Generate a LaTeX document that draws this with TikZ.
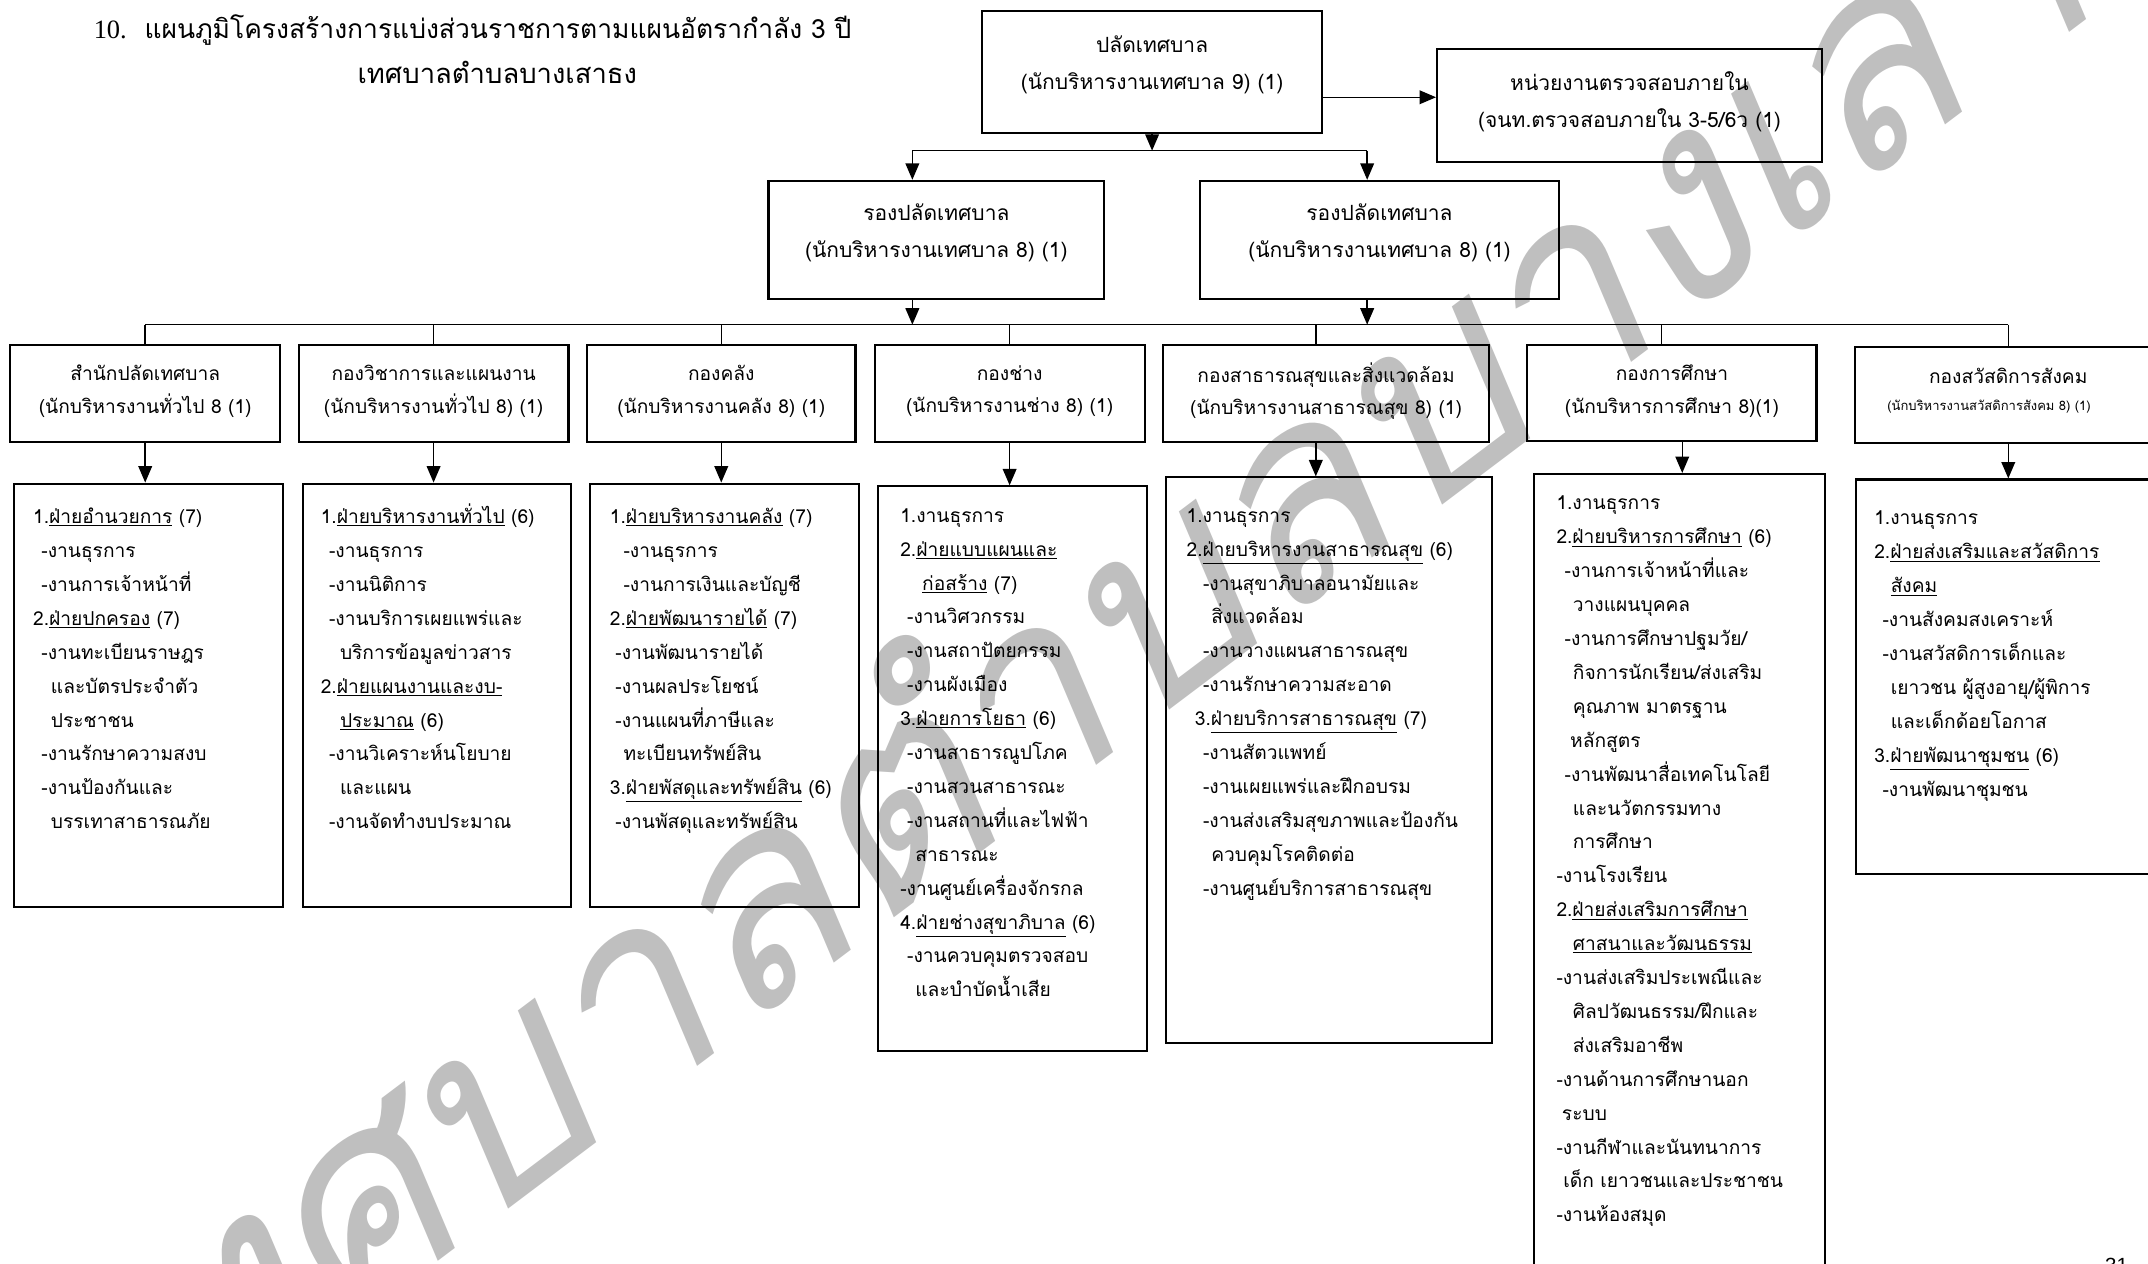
\documentclass[tikz,border=0pt]{standalone}
\usepackage{fontspec}
\setmainfont{Liberation Serif}
\newfontfamily\thai[Script=Thai]{Loma}
\newfontfamily\wmfont[Script=Thai,FakeSlant=0.25]{Loma}
\newfontfamily\pgsans{Liberation Sans}
\usetikzlibrary{arrows.meta}
\tikzset{
  box/.style={draw, line width=1.5pt, rectangle, inner sep=0pt},
  arr/.style={line width=1.1pt, -{Triangle[length=12pt,width=10pt]}},
  ln/.style={line width=1.1pt},
  head/.style={font=\thai\fontsize{15.3}{27}\selectfont, align=center, inner sep=0pt},
  dhead/.style={font=\thai\fontsize{14}{24}\selectfont, align=center, inner sep=0pt},
  list/.style={font=\thai\fontsize{14}{24.75}\selectfont, align=left, anchor=north west, inner sep=0pt},
  wm/.style={font=\wmfont\fontsize{200}{200}\selectfont, text=black!25, inner sep=0pt},
}
\newcommand\ind[1]{\hspace*{#1pt}}
\newcommand\st{\rule{0pt}{16pt}}
\begin{document}
\begin{tikzpicture}[x=1pt,y=-1pt]
\useasboundingbox (0,0) rectangle (1568,922);
\clip (0,0) rectangle (1568,922);
% watermark
\node[wm, rotate=37] (W) at (850,420) {เทศบาลตำบลบางเสาธง};
% title
\node[font=\thai\fontsize{19.3}{31}\selectfont, inner sep=0pt] (TT1) at (345,22) {{\rmfamily 10.}\ \ แผนภูมิโครงสร้างการแบ่งส่วนราชการตามแผนอัตรากำลัง 3 ปี};
\node[font=\thai\fontsize{20}{31}\selectfont, inner sep=0pt] (TT2) at (363,53) {เทศบาลตำบลบางเสาธง};
% top level
\node[box, minimum width=248pt, minimum height=89pt] (T) at (841,52.5) {};
\node[head] (Tt) at (841,47) {ปลัดเทศบาล\\(นักบริหารงานเทศบาล 9) (1)};
\node[box, minimum width=281pt, minimum height=82pt] (A) at (1189.5,77) {};
\node[head] (At) at (1189.5,74) {หน่วยงานตรวจสอบภายใน\\(จนท.ตรวจสอบภายใน 3-5/6ว (1)};
\node[box, minimum width=245pt, minimum height=86pt] (D1) at (683.5,175) {};
\node[head] (D1t) at (683.5,170) {รองปลัดเทศบาล\\(นักบริหารงานเทศบาล 8) (1)};
\node[box, minimum width=262pt, minimum height=86pt] (D2) at (1007,175) {};
\node[head] (D2t) at (1007,170) {รองปลัดเทศบาล\\(นักบริหารงานเทศบาล 8) (1)};
% connectors top
\coordinate (ty) at (0,71);
\coordinate (b1) at (841,110);
\coordinate (b1l) at (666,110);
\coordinate (b1r) at (998,110);
\draw[arr] (T.east |- ty) -- (A.west |- ty);
\draw[arr] (T.south) -- (b1);
\draw[ln] (b1l) -- (b1r);
\draw[arr] (b1l) -- (b1l |- D1.north);
\draw[arr] (b1r) -- (b1r |- D2.north);
% second bus
\coordinate (b2l) at (106,237);
\coordinate (b2r) at (1466,237);
\draw[ln] (b2l) -- (b2r);
\draw[arr] ([xshift=-17.5pt]D1.south) -- ([xshift=-17.5pt]D1.south |- b2l);
\draw[arr] ([xshift=-9pt]D2.south) -- ([xshift=-9pt]D2.south |- b2l);
% departments
\node[box, minimum width=197pt, minimum height=71pt] (G1) at (106,287) {};
\node[dhead] (G1t) at (106,285.5) {สำนักปลัดเทศบาล\\(นักบริหารงานทั่วไป 8 (1)};
\node[box, minimum width=197pt, minimum height=71pt] (G2) at (316.5,287) {};
\node[dhead] (G2t) at (316.5,285.5) {กองวิชาการและแผนงาน\\(นักบริหารงานทั่วไป 8) (1)};
\node[box, minimum width=196pt, minimum height=71pt] (G3) at (526.5,287) {};
\node[dhead] (G3t) at (526.5,285.5) {กองคลัง\\(นักบริหารงานคลัง 8) (1)};
\node[box, minimum width=197pt, minimum height=71pt] (G4) at (737,287) {};
\node[dhead] (G4t) at (737,285.5) {กองช่าง\\(นักบริหารงานช่าง 8) (1)};
\node[box, minimum width=238pt, minimum height=71pt] (G5) at (968,287) {};
\node[dhead] (G5t) at (968,285.5) {กองสาธารณสุขและสิ่งแวดล้อม\\(นักบริหารงานสาธารณสุข 8) (1)};
\node[box, minimum width=211pt, minimum height=70pt] (G6) at (1220.5,287) {};
\node[dhead] (G6t) at (1220.5,285.5) {กองการศึกษา\\(นักบริหารการศึกษา 8)(1)};
\node[box, minimum width=216pt, minimum height=70pt] (G7) at (1462,288.5) {};
\node[font=\thai\fontsize{14}{24}\selectfont, inner sep=0pt] (G7t) at (1466,274) {กองสวัสดิการสังคม};
\node[font=\thai\fontsize{9.5}{10}\selectfont, inner sep=0pt] (G7s) at (1452,297) {(นักบริหารงานสวัสดิการสังคม 8) (1)};
% bus drops
\draw[ln] (G1.north |- b2l) -- (G1.north);
\draw[ln] (G2.north |- b2l) -- (G2.north);
\draw[ln] (G3.north |- b2l) -- (G3.north);
\draw[ln] (G4.north |- b2l) -- (G4.north);
\draw[ln] ([xshift=-7.5pt]G5.north |- b2l) -- ([xshift=-7.5pt]G5.north);
\draw[ln] ([xshift=-7.5pt]G6.north |- b2l) -- ([xshift=-7.5pt]G6.north);
\draw[ln] ([xshift=4pt]G7.north |- b2l) -- ([xshift=4pt]G7.north);
% detail boxes
\node[box, minimum width=196pt, minimum height=309pt] (K1) at (108.5,507.5) {};
\node[box, minimum width=196pt, minimum height=309pt] (K2) at (319,507.5) {};
\node[box, minimum width=196pt, minimum height=309pt] (K3) at (529,507.5) {};
\node[box, minimum width=196pt, minimum height=412pt] (K4) at (739,561) {};
\node[box, minimum width=238pt, minimum height=413pt] (K5) at (970,555) {};
\node[box, minimum width=212pt, minimum height=600pt] (K6) at (1226,646) {};
\node[box, minimum width=216pt, minimum height=288pt] (K7) at (1463,494) {};
% arrows to detail boxes
\draw[arr] (G1.south) -- (G1.south |- K1.north);
\draw[arr] (G2.south) -- (G2.south |- K2.north);
\draw[arr] (G3.south) -- (G3.south |- K3.north);
\draw[arr] (G4.south) -- (G4.south |- K4.north);
\draw[arr] ([xshift=-7.5pt]G5.south) -- ([xshift=-7.5pt]G5.south |- K5.north);
\draw[arr] ([xshift=7.5pt]G6.south) -- ([xshift=7.5pt]G6.south |- K6.north);
\draw[arr] ([xshift=4pt]G7.south) -- ([xshift=4pt]G7.south |- K7.north);
% lists
\node[list] (L1) at (24,366) {%
\st 1.\underline{ฝ่ายอำนวยการ} (7)\\
\ind{6}-งานธุรการ\\
\ind{6}-งานการเจ้าหน้าที่\\
2.\underline{ฝ่ายปกครอง} (7)\\
\ind{6}-งานทะเบียนราษฎร\\
\ind{13}และบัตรประจำตัว\\
\ind{13}ประชาชน\\
\ind{6}-งานรักษาความสงบ\\
\ind{6}-งานป้องกันและ\\
\ind{13}บรรเทาสาธารณภัย};
\node[list] (L2) at (234,366) {%
\st 1.\underline{ฝ่ายบริหารงานทั่วไป} (6)\\
\ind{6}-งานธุรการ\\
\ind{6}-งานนิติการ\\
\ind{6}-งานบริการเผยแพร่และ\\
\ind{14}บริการข้อมูลข่าวสาร\\
2.\underline{ฝ่ายแผนงานและงบ-}\\
\ind{14}\underline{ประมาณ} (6)\\
\ind{6}-งานวิเคราะห์นโยบาย\\
\ind{14}และแผน\\
\ind{6}-งานจัดทำงบประมาณ};
\node[list] (L3) at (445,366) {%
\st 1.\underline{ฝ่ายบริหารงานคลัง} (7)\\
\ind{10}-งานธุรการ\\
\ind{10}-งานการเงินและบัญชี\\
2.\underline{ฝ่ายพัฒนารายได้} (7)\\
\ind{4}-งานพัฒนารายได้\\
\ind{4}-งานผลประโยชน์\\
\ind{4}-งานแผนที่ภาษีและ\\
\ind{10}ทะเบียนทรัพย์สิน\\
3.\underline{ฝ่ายพัสดุและทรัพย์สิน} (6)\\
\ind{4}-งานพัสดุและทรัพย์สิน};
\node[list] (L4) at (657,365) {%
\st 1.งานธุรการ\\
2.\underline{ฝ่ายแบบแผนและ}\\
\ind{16}\underline{ก่อสร้าง} (7)\\
\ind{5}-งานวิศวกรรม\\
\ind{5}-งานสถาปัตยกรรม\\
\ind{5}-งานผังเมือง\\
3.\underline{ฝ่ายการโยธา} (6)\\
\ind{5}-งานสาธารณูปโภค\\
\ind{5}-งานสวนสาธารณะ\\
\ind{5}-งานสถานที่และไฟฟ้า\\
\ind{11}สาธารณะ\\
-งานศูนย์เครื่องจักรกล\\
4.\underline{ฝ่ายช่างสุขาภิบาล} (6)\\
\ind{5}-งานควบคุมตรวจสอบ\\
\ind{11}และบำบัดน้ำเสีย};
\node[list] (L5) at (866,365) {%
\st 1.งานธุรการ\\
2.\underline{ฝ่ายบริหารงานสาธารณสุข} (6)\\
\ind{12}-งานสุขาภิบาลอนามัยและ\\
\ind{18}สิ่งแวดล้อม\\
\ind{12}-งานวางแผนสาธารณสุข\\
\ind{12}-งานรักษาความสะอาด\\
\ind{6}3.\underline{ฝ่ายบริการสาธารณสุข} (7)\\
\ind{12}-งานสัตวแพทย์\\
\ind{12}-งานเผยแพร่และฝึกอบรม\\
\ind{12}-งานส่งเสริมสุขภาพและป้องกัน\\
\ind{18}ควบคุมโรคติดต่อ\\
\ind{12}-งานศูนย์บริการสาธารณสุข};
\node[list] (L6) at (1136,356) {%
\st 1.งานธุรการ\\
2.\underline{ฝ่ายบริหารการศึกษา} (6)\\
\ind{6}-งานการเจ้าหน้าที่และ\\
\ind{12}วางแผนบุคคล\\
\ind{6}-งานการศึกษาปฐมวัย/\\
\ind{12}กิจการนักเรียน/ส่งเสริม\\
\ind{12}คุณภาพ มาตรฐาน\\
\ind{10}หลักสูตร\\
\ind{6}-งานพัฒนาสื่อเทคโนโลยี\\
\ind{12}และนวัตกรรมทาง\\
\ind{12}การศึกษา\\
-งานโรงเรียน\\
2.\underline{ฝ่ายส่งเสริมการศึกษา}\\
\ind{12}\underline{ศาสนาและวัฒนธรรม}\\
-งานส่งเสริมประเพณีและ\\
\ind{12}ศิลปวัฒนธรรม/ฝึกและ\\
\ind{12}ส่งเสริมอาชีพ\\
-งานด้านการศึกษานอก\\
\ind{4}ระบบ\\
-งานกีฬาและนันทนาการ\\
\ind{5}เด็ก เยาวชนและประชาชน\\
-งานห้องสมุด};
\node[list] (L7) at (1368,367) {%
\st 1.งานธุรการ\\
2.\underline{ฝ่ายส่งเสริมและสวัสดิการ}\\
\ind{12}\underline{สังคม}\\
\ind{6}-งานสังคมสงเคราะห์\\
\ind{6}-งานสวัสดิการเด็กและ\\
\ind{12}เยาวชน ผู้สูงอายุ/ผู้พิการ\\
\ind{12}และเด็กด้อยโอกาส\\
3.\underline{ฝ่ายพัฒนาชุมชน} (6)\\
\ind{6}-งานพัฒนาชุมชน};
% page number
\node[font=\pgsans\fontsize{15}{15}\selectfont, anchor=north, inner sep=0pt] (PG) at (1545,918) {31};
\end{tikzpicture}
\end{document}
